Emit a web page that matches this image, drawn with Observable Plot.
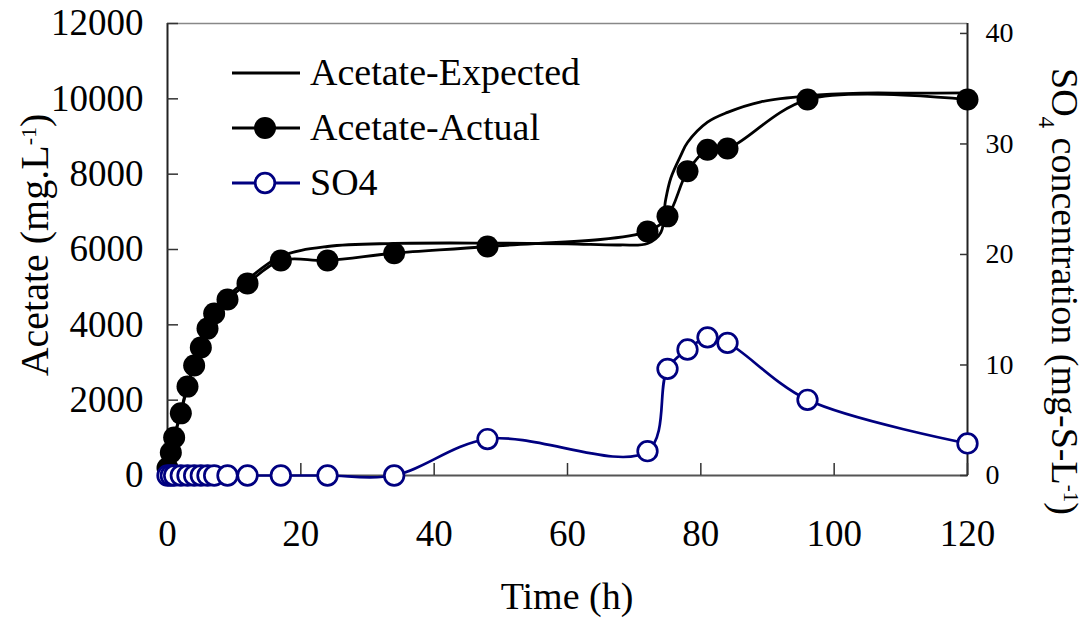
<!DOCTYPE html>
<html><head><meta charset="utf-8">
<script src="https://cdn.jsdelivr.net/npm/d3@7"></script>
<script src="https://cdn.jsdelivr.net/npm/@observablehq/plot@0.6"></script>
<style>body{margin:0;background:#fff;} #chart{width:1092px;height:623px;}</style>
</head><body><div id="chart"></div>
<script>
// ---- data ----
const times = [0, 0.5, 1, 2, 3, 4, 5, 6, 7, 9, 12, 17, 24, 34, 48, 72, 75, 78, 81, 84, 96, 120];
const acetateActual = [200, 610, 1010, 1650, 2360, 2920, 3400, 3900, 4300, 4670, 5100, 5710, 5710, 5900, 6080, 6480, 6880, 8075, 8650, 8680, 9980, 9980];
const so4 = [0, 0, 0, 0, 0, 0, 0, 0, 0, 0, 0, 0, 0, 0, 3.3, 2.2, 9.65, 11.4, 12.5, 12.0, 6.85, 2.9];
const expectedTimes = [0, 1, 2, 3, 4, 5, 6, 7, 9, 12, 17, 24, 34, 48, 60, 68, 72, 74, 74.7, 75.5, 77, 78, 81, 84, 89, 96, 104, 112, 120];
const acetateExpected = [0, 1000, 1700, 2400, 2950, 3450, 3950, 4350, 4750, 5200, 5820, 6080, 6160, 6170, 6150, 6120, 6160, 6450, 7300, 7900, 8500, 8840, 9380, 9640, 9920, 10080, 10150, 10150, 10160];
const xTicks = [0, 20, 40, 60, 80, 100, 120];
const yTicks = [0, 2000, 4000, 6000, 8000, 10000, 12000];
const so4Ticks = [0, 10, 20, 30, 40];
const so4Max = 40.9;
const seriesNames = ["Acetate-Expected", "Acetate-Actual", "SO4"];

// ---- build ----
const K = 12000 / so4Max;
const font = "'Liberation Serif', 'Times New Roman', serif";
const actual = times.map((t, i) => ({t, v: acetateActual[i]}));
const sulf = times.map((t, i) => ({t, v: so4[i] * K}));
const expected = expectedTimes.map((t, i) => ({t, v: acetateExpected[i]}));
const NAVY = "#000080";
const blank = () => "";

const plot = Plot.plot({
  width: 1092, height: 623,
  marginLeft: 167, marginRight: 125, marginTop: 23, marginBottom: 148,
  style: {fontFamily: font, background: "white", overflow: "visible"},
  x: {domain: [0, 120]},
  y: {domain: [0, 12000]},
  marks: [
    Plot.ruleY([12000], {stroke: "#888", strokeWidth: 1.5}),
    Plot.ruleY([0], {stroke: "#555", strokeWidth: 2}),
    Plot.ruleX([0], {stroke: "#222", strokeWidth: 2}),
    Plot.ruleX([120], {stroke: "#222", strokeWidth: 2}),
    // inward ticks
    Plot.axisX(xTicks, {anchor: "bottom", tickSize: 12, dy: -12, tickFormat: blank, label: null, stroke: "#333", strokeWidth: 1.5}),
    Plot.axisY(yTicks, {anchor: "left", tickSize: 11, dx: 11, tickFormat: blank, label: null, stroke: "#333", strokeWidth: 1.5}),
    Plot.axisY(so4Ticks.map(v => v * K), {anchor: "right", tickSize: 8, dx: -8, tickFormat: blank, label: null, stroke: "#333", strokeWidth: 1.5}),
    // tick labels
    Plot.axisX(xTicks, {anchor: "bottom", tickSize: 0, tickPadding: 44, fontSize: 37, tickFormat: d => String(d), label: null}),
    Plot.axisY(yTicks, {anchor: "left", tickSize: 0, tickPadding: 24, fontSize: 37, tickFormat: d => String(d), label: null}),
    Plot.axisY(so4Ticks.map(v => v * K), {anchor: "right", tickSize: 0, tickPadding: 18, fontSize: 28, tickFormat: d => String(Math.round(d / K)), label: null}),
    // data
    Plot.line(expected, {x: "t", y: "v", stroke: "black", strokeWidth: 2.8, curve: "catmull-rom"}),
    Plot.line(actual, {x: "t", y: "v", stroke: "black", strokeWidth: 2.8, curve: "catmull-rom"}),
    Plot.dot(actual, {x: "t", y: "v", r: 11, fill: "black", stroke: "none"}),
    Plot.line(sulf, {x: "t", y: "v", stroke: NAVY, strokeWidth: 2.7, curve: "catmull-rom"}),
    Plot.dot(sulf, {x: "t", y: "v", r: 9.8, fill: "white", stroke: NAVY, strokeWidth: 2.7})
  ]
});
document.getElementById("chart").appendChild(plot);

// ---- legend & axis titles ----
const svg = d3.select(plot);
const lg = svg.append("g").attr("font-family", font).attr("font-size", 38).attr("text-anchor", "start");
const rows = [73, 128, 183];
seriesNames.forEach((name, i) => {
  const y = rows[i];
  const col = i === 2 ? NAVY : "black";
  lg.append("line").attr("x1", 232).attr("x2", 300).attr("y1", y).attr("y2", y)
    .attr("stroke", col).attr("stroke-width", 2.8);
  if (i === 1) lg.append("circle").attr("cx", 265).attr("cy", y).attr("r", 11).attr("fill", "black");
  if (i === 2) lg.append("circle").attr("cx", 265).attr("cy", y).attr("r", 9.8).attr("fill", "white").attr("stroke", NAVY).attr("stroke-width", 2.7);
  lg.append("text").attr("x", 310).attr("y", y + 12).attr("fill", "black").attr("text-anchor", "start").text(name);
});

const tg = svg.append("g").attr("font-family", font).attr("fill", "black");
tg.append("text").attr("x", 567).attr("y", 609).attr("text-anchor", "middle").attr("font-size", 38).text("Time (h)");

const lt = tg.append("text").attr("transform", "translate(48,245) rotate(-90)").attr("text-anchor", "middle").attr("font-size", 40);
lt.append("tspan").text("Acetate (mg.L");
lt.append("tspan").attr("baseline-shift", "super").attr("font-size", 22).text("-1");
lt.append("tspan").text(")");

const rt = tg.append("text").attr("transform", "translate(1052,68) rotate(90)").attr("text-anchor", "start").attr("font-size", 38);
rt.append("tspan").text("SO");
rt.append("tspan").attr("baseline-shift", "sub").attr("font-size", 23).text("4");
rt.append("tspan").text(" concentration (mg-S-L");
rt.append("tspan").attr("baseline-shift", "super").attr("font-size", 21).text("-1");
rt.append("tspan").text(")");
</script>
</body></html>
